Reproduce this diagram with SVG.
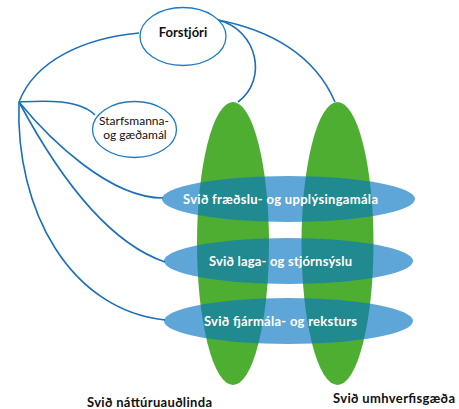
<svg xmlns="http://www.w3.org/2000/svg" width="459" height="409" viewBox="0 0 459 409">
<style>
.conn{fill:none;stroke:#1b6fbb;stroke-width:1.6}
.green{fill:#4eae32}
.blue{fill:#0a78c2;fill-opacity:0.66}
.oval{fill:#fff;stroke:#1d7bc6;stroke-width:1.3}
.wt{font-family:Lato,"Liberation Sans",sans-serif;font-weight:bold;font-size:13px;fill:#fff;text-anchor:middle}
.bt{font-family:Lato,"Liberation Sans",sans-serif;font-weight:bold;font-size:13px;fill:#111;text-anchor:middle}
.nt{font-family:Lato,"Liberation Sans",sans-serif;font-size:12px;fill:#111;text-anchor:middle}
</style>
<rect width="459" height="409" fill="#fff"/>
<g id="svid-natturuaudlinda">
<ellipse class="green" cx="233" cy="243.5" rx="36" ry="141.5"/>
</g>
<g id="svid-umhverfisgaeda">
<ellipse class="green" cx="337.5" cy="243.5" rx="36" ry="141.5"/>
</g>
<g id="connectors">
<path class="conn" d="M19,102 C35,60 85,38 139,33"/>
<path class="conn" d="M19,102 C40,101 78,98 95,115"/>
<path class="conn" d="M19,102 C50,140 110,198 163,198"/>
<path class="conn" d="M19,102 C50,160 100,240 165,262"/>
<path class="conn" d="M19,102 C15,210 70,310 165,320"/>
<path class="conn" d="M218,20 C258,30 268,80 238,102"/>
<path class="conn" d="M218,20 C270,30 315,55 335,102"/>
</g>
<g id="forstjori">
<ellipse class="oval" cx="183" cy="36.5" rx="43" ry="29"/>
<text class="bt" x="183" y="37">Forstjóri</text>
</g>
<g id="starfsmanna">
<ellipse class="oval" cx="134.5" cy="129.5" rx="42" ry="28"/>
<text class="nt" x="134" y="125">Starfsmanna-</text>
<text class="nt" x="135" y="139">og gæðamál</text>
</g>
<g id="svid-fraedslu">
<ellipse class="blue" cx="288.5" cy="199" rx="126.5" ry="23"/>
<text class="wt" x="280.5" y="203.5" textLength="195">Svið fræðslu- og upplýsingamála</text>
</g>
<g id="svid-laga">
<ellipse class="blue" cx="288.5" cy="261" rx="124.5" ry="23"/>
<text class="wt" x="280.5" y="265.5" textLength="143">Svið laga- og stjórnsýslu</text>
</g>
<g id="svid-fjarmala">
<ellipse class="blue" cx="288.5" cy="321" rx="124.5" ry="23"/>
<text class="wt" x="280.5" y="325.5" textLength="153">Svið fjármála- og reksturs</text>
</g>
<g id="labels">
<text class="bt" x="149.5" y="406.5" textLength="125">Svið náttúruauðlinda</text>
<text class="bt" x="394" y="402.5" textLength="122">Svið umhverfisgæða</text>
</g>
</svg>
